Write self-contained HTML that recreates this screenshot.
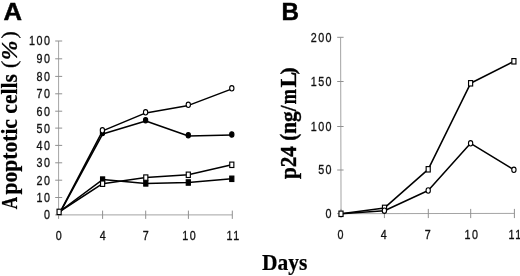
<!DOCTYPE html>
<html><head><meta charset="utf-8"><title>Figure</title>
<style>
html,body{margin:0;padding:0;background:#fff;}
svg{display:block;}
.t{font-family:"Liberation Sans",Arial,sans-serif;font-size:13.6px;letter-spacing:1.9px;fill:#111;stroke:#111;stroke-width:0.34px;}
.b{font-family:"Liberation Serif","Times New Roman",serif;font-weight:bold;font-size:21.5px;fill:#000;stroke:#000;stroke-width:0.22px;}
.p{font-family:"Liberation Sans",Arial,sans-serif;font-weight:bold;font-size:24.2px;fill:#000;stroke:#000;stroke-width:0.45px;}
</style></head><body>
<svg width="520" height="276" viewBox="0 0 520 276">
<rect width="520" height="276" fill="#fff"/>
<g stroke="#a4a4a4" stroke-width="1" fill="none">
<line x1="58.6" y1="41" x2="58.6" y2="214.9"/>
<line x1="58.6" y1="214.9" x2="232.3" y2="214.9"/>
</g>
<g stroke="#909090" stroke-width="1" fill="none">
<line x1="55.2" y1="214.9" x2="62.2" y2="214.9"/>
<line x1="55.2" y1="197.5" x2="62.2" y2="197.5"/>
<line x1="55.2" y1="180.2" x2="62.2" y2="180.2"/>
<line x1="55.2" y1="162.8" x2="62.2" y2="162.8"/>
<line x1="55.2" y1="145.4" x2="62.2" y2="145.4"/>
<line x1="55.2" y1="128.1" x2="62.2" y2="128.1"/>
<line x1="55.2" y1="111.2" x2="62.2" y2="111.2"/>
<line x1="55.2" y1="93.8" x2="62.2" y2="93.8"/>
<line x1="55.2" y1="76.4" x2="62.2" y2="76.4"/>
<line x1="55.2" y1="58.8" x2="62.2" y2="58.8"/>
<line x1="55.2" y1="41" x2="62.2" y2="41"/>
<line x1="58.6" y1="210.6" x2="58.6" y2="218.9"/>
<line x1="102.6" y1="210.6" x2="102.6" y2="218.9"/>
<line x1="145.7" y1="210.6" x2="145.7" y2="218.9"/>
<line x1="188.4" y1="210.6" x2="188.4" y2="218.9"/>
<line x1="232.3" y1="210.6" x2="232.3" y2="218.9"/>
</g>
<text class="t" text-anchor="end" transform="translate(51.4,219.3) scale(0.79,1)">0</text>
<text class="t" text-anchor="end" transform="translate(51.4,201.9) scale(0.79,1)">10</text>
<text class="t" text-anchor="end" transform="translate(51.4,184.6) scale(0.79,1)">20</text>
<text class="t" text-anchor="end" transform="translate(51.4,167.2) scale(0.79,1)">30</text>
<text class="t" text-anchor="end" transform="translate(51.4,149.8) scale(0.79,1)">40</text>
<text class="t" text-anchor="end" transform="translate(51.4,132.5) scale(0.79,1)">50</text>
<text class="t" text-anchor="end" transform="translate(51.4,115.6) scale(0.79,1)">60</text>
<text class="t" text-anchor="end" transform="translate(51.4,98.2) scale(0.79,1)">70</text>
<text class="t" text-anchor="end" transform="translate(51.4,80.8) scale(0.79,1)">80</text>
<text class="t" text-anchor="end" transform="translate(51.4,63.2) scale(0.79,1)">90</text>
<text class="t" text-anchor="end" transform="translate(51.4,45.4) scale(0.79,1)">100</text>
<text class="t" text-anchor="middle" transform="translate(59.5,240.2) scale(0.79,1)">0</text>
<text class="t" text-anchor="middle" transform="translate(103.5,240.2) scale(0.79,1)">4</text>
<text class="t" text-anchor="middle" transform="translate(146.6,240.2) scale(0.79,1)">7</text>
<text class="t" text-anchor="middle" transform="translate(189.8,240.2) scale(0.79,1)">10</text>
<text class="t" text-anchor="middle" transform="translate(233.7,240.2) scale(0.79,1)">11</text>
<polyline fill="none" stroke="#000" stroke-width="1.55" stroke-linejoin="round" points="59,212 102.6,179.6 145.8,183.4 188.3,182.5 231.8,178.8"/>
<polyline fill="none" stroke="#000" stroke-width="1.55" stroke-linejoin="round" points="59,212 102.6,183.7 145.8,177.6 188.3,174.8 231.8,164.8"/>
<polyline fill="none" stroke="#000" stroke-width="1.55" stroke-linejoin="round" points="59.7,212.8 102.6,130.9 145.8,112.9 188.5,105.4 232,88.9"/>
<polyline fill="none" stroke="#000" stroke-width="1.55" stroke-linejoin="round" points="59.9,212.8 102.7,133.9 145.8,120.9 188.5,135.9 232,135.1"/>
<rect x="100.55" y="176.9" width="4.1" height="5.4" fill="#000" stroke="#000" stroke-width="1.15"/>
<rect x="143.75" y="180.7" width="4.1" height="5.4" fill="#000" stroke="#000" stroke-width="1.15"/>
<rect x="186.25" y="179.8" width="4.1" height="5.4" fill="#000" stroke="#000" stroke-width="1.15"/>
<rect x="229.75" y="176.1" width="4.1" height="5.4" fill="#000" stroke="#000" stroke-width="1.15"/>
<rect x="100.55" y="181" width="4.1" height="5.4" fill="#fff" stroke="#000" stroke-width="1.15"/>
<rect x="143.75" y="174.9" width="4.1" height="5.4" fill="#fff" stroke="#000" stroke-width="1.15"/>
<rect x="186.25" y="172.1" width="4.1" height="5.4" fill="#fff" stroke="#000" stroke-width="1.15"/>
<rect x="229.75" y="162.1" width="4.1" height="5.4" fill="#fff" stroke="#000" stroke-width="1.15"/>
<ellipse cx="102.5" cy="132.9" rx="2.15" ry="2.7" fill="#000" stroke="#000" stroke-width="1.1"/>
<ellipse cx="145.6" cy="120.3" rx="2.15" ry="2.7" fill="#000" stroke="#000" stroke-width="1.1"/>
<ellipse cx="188.3" cy="135.3" rx="2.15" ry="2.7" fill="#000" stroke="#000" stroke-width="1.1"/>
<ellipse cx="231.8" cy="134.5" rx="2.15" ry="2.7" fill="#000" stroke="#000" stroke-width="1.1"/>
<ellipse cx="102.4" cy="130.3" rx="2.15" ry="2.7" fill="#fff" stroke="#000" stroke-width="1.1"/>
<ellipse cx="145.6" cy="112.3" rx="2.15" ry="2.7" fill="#fff" stroke="#000" stroke-width="1.1"/>
<ellipse cx="188.3" cy="104.8" rx="2.15" ry="2.7" fill="#fff" stroke="#000" stroke-width="1.1"/>
<ellipse cx="231.8" cy="88.3" rx="2.15" ry="2.7" fill="#fff" stroke="#000" stroke-width="1.1"/>
<rect x="57.05" y="209.2" width="4.1" height="5.4" fill="#fff" stroke="#000" stroke-width="1.15"/>
<g stroke="#a4a4a4" stroke-width="1" fill="none">
<line x1="340.6" y1="37.3" x2="341.05" y2="213.5"/>
<line x1="341" y1="213.7" x2="514.4" y2="213.4"/>
</g>
<g stroke="#909090" stroke-width="1" fill="none">
<line x1="337.2" y1="213.6" x2="343.6" y2="213.6"/>
<line x1="337.2" y1="170" x2="343.6" y2="170"/>
<line x1="337.2" y1="126.5" x2="343.6" y2="126.5"/>
<line x1="337.2" y1="81.5" x2="343.6" y2="81.5"/>
<line x1="337.2" y1="37.3" x2="343.6" y2="37.3"/>
<line x1="341" y1="208.9" x2="341" y2="218.1"/>
<line x1="384.4" y1="208.9" x2="384.4" y2="218.1"/>
<line x1="428.3" y1="208.9" x2="428.3" y2="218.1"/>
<line x1="470.7" y1="208.9" x2="470.7" y2="218.1"/>
<line x1="514.4" y1="208.9" x2="514.4" y2="218.1"/>
</g>
<text class="t" text-anchor="end" transform="translate(333.1,218) scale(0.79,1)">0</text>
<text class="t" text-anchor="end" transform="translate(333.1,174.4) scale(0.79,1)">50</text>
<text class="t" text-anchor="end" transform="translate(333.1,130.9) scale(0.79,1)">100</text>
<text class="t" text-anchor="end" transform="translate(333.1,85.9) scale(0.79,1)">150</text>
<text class="t" text-anchor="end" transform="translate(333.1,41.7) scale(0.79,1)">200</text>
<text class="t" text-anchor="middle" transform="translate(341.2,239.3) scale(0.79,1)">0</text>
<text class="t" text-anchor="middle" transform="translate(384.6,239.3) scale(0.79,1)">4</text>
<text class="t" text-anchor="middle" transform="translate(428.5,239.3) scale(0.79,1)">7</text>
<text class="t" text-anchor="middle" transform="translate(471.9,239.3) scale(0.79,1)">10</text>
<text class="t" text-anchor="middle" transform="translate(515.6,239.3) scale(0.79,1)">11</text>
<polyline fill="none" stroke="#000" stroke-width="1.55" stroke-linejoin="round" points="341,213.8 384.5,207.9 428.2,169.3 470.6,83.3 513.9,61.3"/>
<polyline fill="none" stroke="#000" stroke-width="1.55" stroke-linejoin="round" points="341,213.8 384.4,210.7 428.2,190.5 470.6,143.3 513.9,169.8"/>
<rect x="338.95" y="211.1" width="4.1" height="5.4" fill="#fff" stroke="#000" stroke-width="1.15"/>
<rect x="382.45" y="205.2" width="4.1" height="5.4" fill="#fff" stroke="#000" stroke-width="1.15"/>
<rect x="426.15" y="166.6" width="4.1" height="5.4" fill="#fff" stroke="#000" stroke-width="1.15"/>
<rect x="468.55" y="80.6" width="4.1" height="5.4" fill="#fff" stroke="#000" stroke-width="1.15"/>
<rect x="511.85" y="58.6" width="4.1" height="5.4" fill="#fff" stroke="#000" stroke-width="1.15"/>
<ellipse cx="384.4" cy="210.7" rx="2.15" ry="2.7" fill="#fff" stroke="#000" stroke-width="1.1"/>
<ellipse cx="428.2" cy="190.5" rx="2.15" ry="2.7" fill="#fff" stroke="#000" stroke-width="1.1"/>
<ellipse cx="470.6" cy="143.3" rx="2.15" ry="2.7" fill="#fff" stroke="#000" stroke-width="1.1"/>
<ellipse cx="513.9" cy="169.8" rx="2.15" ry="2.7" fill="#fff" stroke="#000" stroke-width="1.1"/>
<text class="p" transform="translate(3.5,19.6) scale(1.06,1)">A</text>
<text class="p" transform="translate(281.4,19.55)">B</text>
<text class="b" transform="translate(262.1,270.4) scale(1,1.03)">Days</text>
<g class="b">
<text transform="translate(16.5,209.2) rotate(-90) scale(0.8,1.04)">A</text>
<text transform="translate(16.5,194.5) rotate(-90) scale(1.003,1.04)">poptotic cells</text>
<text font-weight="normal" stroke-width="0.35" transform="translate(15.5,67.9) rotate(-90) scale(1,0.95)">(</text>
<text font-style="italic" transform="translate(16.5,60.3) rotate(-90) scale(1.1,1.04)">%</text>
<text font-weight="normal" stroke-width="0.35" transform="translate(15.5,38.4) rotate(-90) scale(1,0.95)">)</text>
</g>
<g class="b" style="stroke-width:0.35px">
<text transform="translate(295.6,179) rotate(-90) scale(0.985,1.05)">p24 (ng/</text>
<text transform="translate(295.6,104.3) rotate(-90) scale(0.84,1.05)">m</text>
<text transform="translate(295.6,87.6) rotate(-90) scale(1.1,1.05)">L</text>
<text transform="translate(295.2,74.4) rotate(-90) scale(1,0.97)">)</text>
</g>
</svg></body></html>
